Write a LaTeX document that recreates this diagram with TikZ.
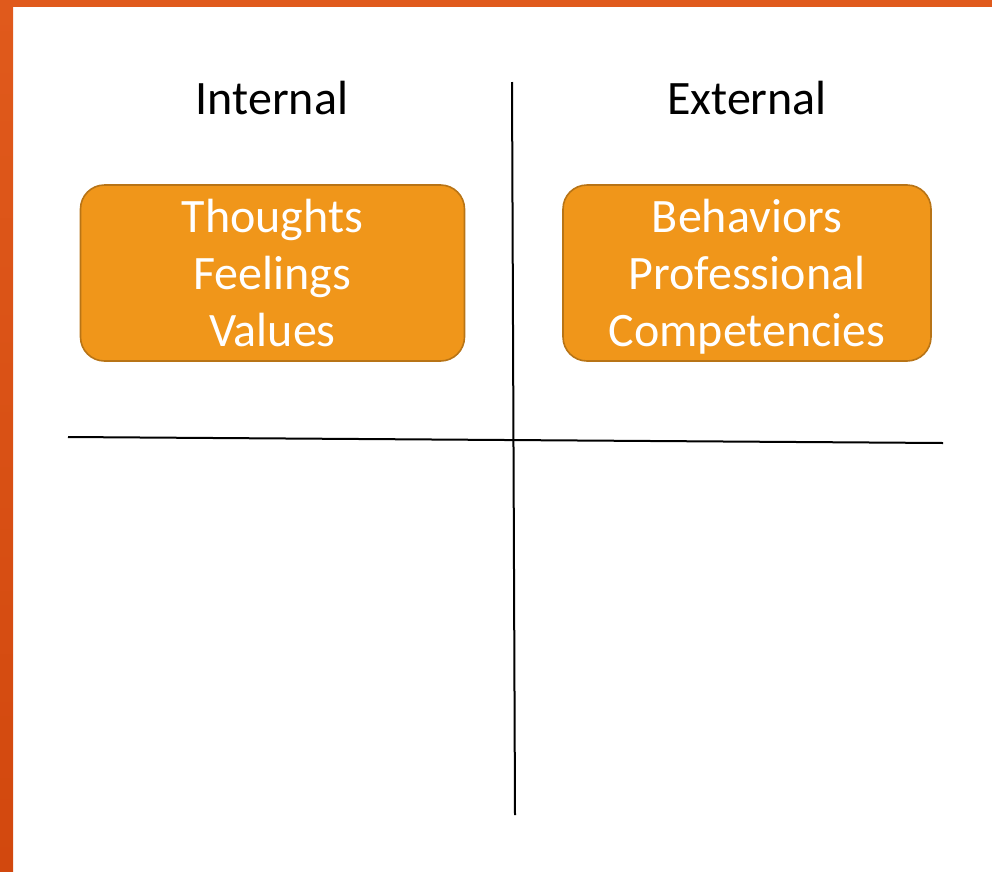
\documentclass[tikz,border=0pt]{standalone}
\usepackage{fontspec}
\setmainfont{Carlito}

\definecolor{framered}{RGB}{224,90,28}
\definecolor{framedark}{RGB}{210,72,14}
\definecolor{boxfill}{RGB}{240,150,26}
\definecolor{boxline}{RGB}{184,116,22}

\tikzset{
  quad/.style={rounded corners=18pt,draw=boxline,line width=1.2pt,fill=boxfill,
    text=white,align=center,minimum width=288pt,minimum height=132pt,
    font=\fontsize{36}{42.75}\selectfont,text depth=0pt},
  head/.style={anchor=base,font=\fontsize{36}{42.75}\selectfont}
}

\begin{document}
\begin{tikzpicture}[x=0.75pt,y=-0.75pt,line width=1.5pt]
\useasboundingbox (0,0) rectangle (992,871);
% frame of the slide
\shade[top color=framered,bottom color=framedark] (0,0) rectangle (13,871);
\fill[framered] (0,0) rectangle (992,7);
% axes
\coordinate (top) at (512,82);
\coordinate (bottom) at (515,815);
\coordinate (left) at (68,437);
\coordinate (right) at (943,443);
\draw (top)--(bottom);
\draw (left)--(right);
% headings
\node[head] (int) at (272,114) {Internal};
\node[head] (ext) at (747,114) {External};
% boxes
\node[quad] (thoughts) at (272.5,273) {Thoughts\\Feelings\\Values};
\node[quad,minimum width=276pt] (behav) at (747,273) {Behaviors\\Professional\\Competencies};
\end{tikzpicture}
\end{document}
